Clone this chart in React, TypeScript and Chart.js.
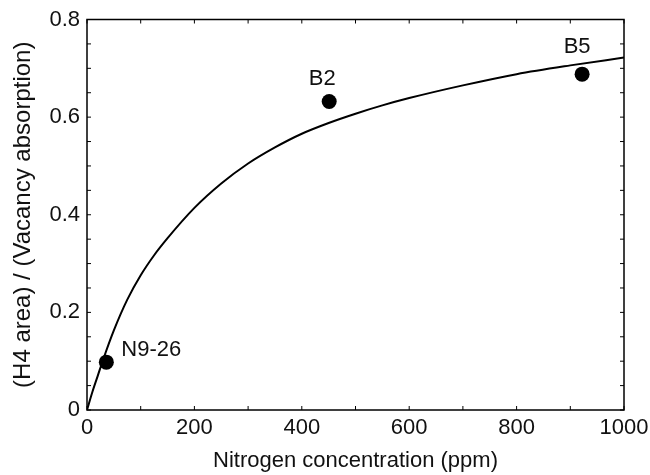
import React, { useEffect, useRef } from "react";
import { Chart, registerables } from "chart.js";

Chart.register(...registerables);

// Fitted curve
const curveX = [0, 10, 20, 30, 50, 75, 100, 125, 150, 200, 250, 300, 350, 400, 450, 500, 550, 600, 700, 800, 900, 1000];
const curveY = [0, 0.037, 0.07, 0.103, 0.163, 0.226, 0.276, 0.317, 0.352, 0.414, 0.464, 0.505, 0.538, 0.566, 0.588, 0.607, 0.624, 0.639, 0.665, 0.688, 0.706, 0.722];

// Samples
const sampleNames = ["N9-26", "B2", "B5"];
const sampleX = [36, 451, 922];
const sampleY = [0.098, 0.632, 0.688];

// Tick marks
const xTickMarks = [0, 100, 200, 300, 400, 500, 600, 700, 800, 900, 1000];
const yTickMarks = [0, 0.05, 0.1, 0.15, 0.2, 0.25, 0.3, 0.35, 0.4, 0.45, 0.5, 0.55, 0.6, 0.65, 0.7, 0.75, 0.8];

const FONT = "'Liberation Sans', Arial, Helvetica, sans-serif";

export default function App() {
  const ref = useRef<HTMLCanvasElement>(null);

  useEffect(() => {
    if (!ref.current) return;

    const framePlugin = {
      id: "frame",
      afterDatasetsDraw(chart: any) {
        const { ctx, chartArea: a, scales } = chart;
        const xs = scales.x;
        const ys = scales.y;
        ctx.save();
        ctx.strokeStyle = "#000";
        ctx.lineWidth = 1.5;
        ctx.strokeRect(a.left, a.top, a.right - a.left, a.bottom - a.top);
        ctx.lineWidth = 1;
        const L = 4;
        ctx.beginPath();
        xTickMarks.forEach((v) => {
          const p = xs.getPixelForValue(v);
          ctx.moveTo(p, a.bottom);
          ctx.lineTo(p, a.bottom - L);
          ctx.moveTo(p, a.top);
          ctx.lineTo(p, a.top + L);
        });
        yTickMarks.forEach((v) => {
          const p = ys.getPixelForValue(v);
          ctx.moveTo(a.left, p);
          ctx.lineTo(a.left + L, p);
          ctx.moveTo(a.right, p);
          ctx.lineTo(a.right - L, p);
        });
        ctx.stroke();

        // sample labels
        ctx.fillStyle = "#111";
        ctx.font = `22px ${FONT}`;
        ctx.textBaseline = "alphabetic";
        sampleNames.forEach((name, i) => {
          const px = xs.getPixelForValue(sampleX[i]);
          const py = ys.getPixelForValue(sampleY[i]);
          if (i === 0) {
            ctx.textAlign = "left";
            ctx.fillText(name, px + 15, py - 6);
          } else {
            ctx.textAlign = "center";
            ctx.fillText(name, px - (i === 1 ? 7 : 5), py - (i === 1 ? 17 : 21));
          }
        });
        ctx.restore();
      },
    };

    const chart = new Chart(ref.current, {
      type: "scatter",
      data: {
        datasets: [
          {
            label: "fit",
            data: curveX.map((x, i) => ({ x, y: curveY[i] })),
            showLine: true,
            borderColor: "#000",
            borderWidth: 2,
            pointRadius: 0,
            cubicInterpolationMode: "monotone",
            fill: false,
          },
          {
            label: "samples",
            data: sampleX.map((x, i) => ({ x, y: sampleY[i] })),
            showLine: false,
            pointRadius: 7.5,
            pointBackgroundColor: "#000",
            pointBorderColor: "#000",
            pointBorderWidth: 0,
          },
        ],
      },
      options: {
        animation: false,
        responsive: false,
        maintainAspectRatio: false,
        events: [],
        layout: { padding: { top: 19.5, right: 26, left: 0, bottom: 0 } },
        plugins: { legend: { display: false }, tooltip: { enabled: false } },
        scales: {
          x: {
            type: "linear",
            min: 0,
            max: 1000,
            grid: { display: false, drawTicks: false },
            border: { display: false },
            ticks: {
              stepSize: 200,
              padding: 5,
              color: "#111",
              font: { family: FONT, size: 22 },
              maxRotation: 0,
              callback: (v: any) => String(v),
            },
            title: {
              display: true,
              text: "Nitrogen concentration (ppm)",
              color: "#111",
              font: { family: FONT, size: 22 },
              padding: { top: 0, bottom: 1 },
            },
            afterFit: (s: any) => {
              s.height = 65;
              s.paddingLeft = 0;
              s.paddingRight = 0;
            },
          },
          y: {
            type: "linear",
            min: 0,
            max: 0.8,
            grid: { display: false, drawTicks: false },
            border: { display: false },
            ticks: {
              stepSize: 0.2,
              padding: 7,
              color: "#111",
              font: { family: FONT, size: 22 },
              callback: (v: any) => String(Math.round(Number(v) * 10) / 10),
            },
            title: {
              display: true,
              text: "(H4 area) / (Vacancy absorption)",
              color: "#111",
              font: { family: FONT, size: 24 },
              padding: { top: 9, bottom: 0 },
            },
            afterFit: (s: any) => {
              s.width = 87;
              s.paddingTop = 0;
              s.paddingBottom = 0;
            },
          },
        },
      },
      plugins: [framePlugin],
    });

    return () => chart.destroy();
  }, []);

  return (
    <div style={{ position: "fixed", left: 0, top: 0, width: 650, height: 475, background: "#fff" }}>
      <canvas ref={ref} width={650} height={475} style={{ width: 650, height: 475 }} />
    </div>
  );
}
